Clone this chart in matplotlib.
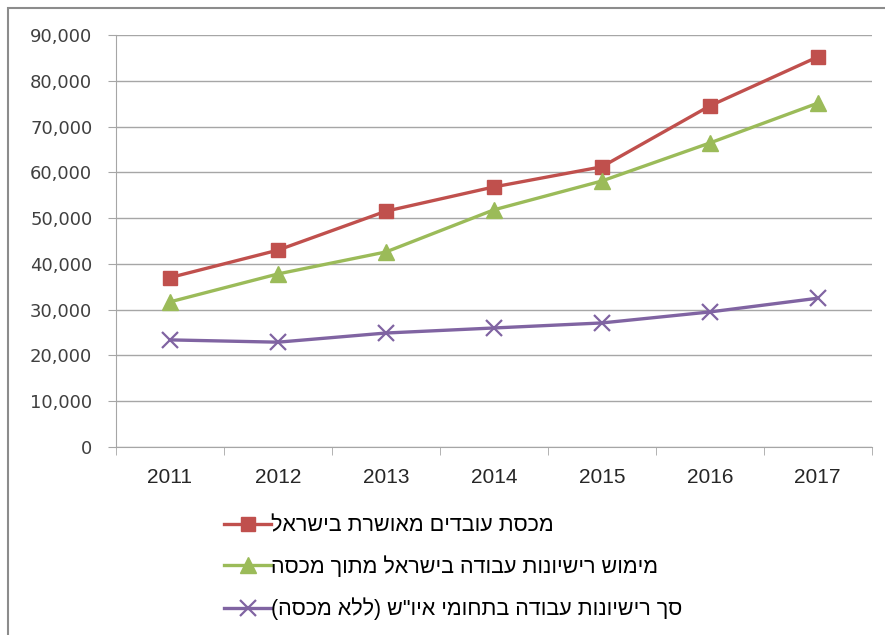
import matplotlib.pyplot as plt
from matplotlib.patches import Rectangle
from matplotlib.ticker import FuncFormatter
import numpy as np

years = ["2011", "2012", "2013", "2014", "2015", "2016", "2017"]
quota = [37000, 43000, 51500, 56800, 61200, 74500, 85200]       # red
used = [31700, 37800, 42600, 51800, 58100, 66400, 75100]        # green
permits = [23400, 22900, 24900, 26000, 27100, 29500, 32500]     # purple

names = ["מכסת עובדים מאושרת בישראל",
         "מימוש רישיונות עבודה בישראל מתוך מכסה",
         'סך רישיונות עבודה בתחומי איו"ש (ללא מכסה)']


def rtl(s):
    # matplotlib has no bidi support: reverse and mirror brackets
    s = s[::-1]
    return s.translate(str.maketrans("()", ")("))


fig = plt.figure(figsize=(8.85, 6.35), dpi=100)
ax = fig.add_axes([0.131, 0.296, 0.854, 0.649])

x = np.arange(len(years))
ax.plot(x, quota, color="#C0504D", lw=2.4, marker="s", ms=10, label=rtl(names[0]))
ax.plot(x, used, color="#9BBB59", lw=2.4, marker="^", ms=11, label=rtl(names[1]))
ax.plot(x, permits, color="#8064A2", lw=2.4, marker="x", ms=11, mew=1.6, label=rtl(names[2]))

ax.set_xlim(-0.5, len(years) - 0.5)
ax.set_ylim(0, 90000)
ax.set_yticks(np.arange(0, 90001, 10000))
ax.yaxis.set_major_formatter(FuncFormatter(lambda v, p: f"{int(v):,}"))
ax.grid(axis="y", color="#A6A6A6", lw=1)
ax.set_axisbelow(True)

ax.set_xticks(x)
ax.set_xticklabels(years, fontfamily="Liberation Sans")
ax.set_xticks(np.arange(-0.5, len(years), 1), minor=True)
ax.tick_params(axis="x", which="major", length=0, pad=15, labelsize=15, colors="#262626")
ax.tick_params(axis="x", which="minor", length=6, color="#A6A6A6")
ax.tick_params(axis="y", length=6, color="#A6A6A6", labelsize=13, pad=11, labelcolor="#404040")
for lab in ax.get_yticklabels():
    lab.set_fontfamily("DejaVu Sans")

for s in ["top", "right"]:
    ax.spines[s].set_visible(False)
ax.spines["left"].set_color("#A6A6A6")
ax.spines["bottom"].set_color("#A6A6A6")

fig.legend(loc="upper left", bbox_to_anchor=(0.236, 0.212), frameon=False,
           handlelength=2.2, labelspacing=0.92, handletextpad=0.0, borderpad=0.2,
           prop={"family": ["Liberation Sans", "DejaVu Sans"], "size": 15.5})

fig.patches.append(Rectangle((0.009, -0.05), 1.1, 1.037, transform=fig.transFigure,
                             fill=False, edgecolor="#8C8C8C", lw=1.5))

fig.savefig("out.png", dpi=100)
